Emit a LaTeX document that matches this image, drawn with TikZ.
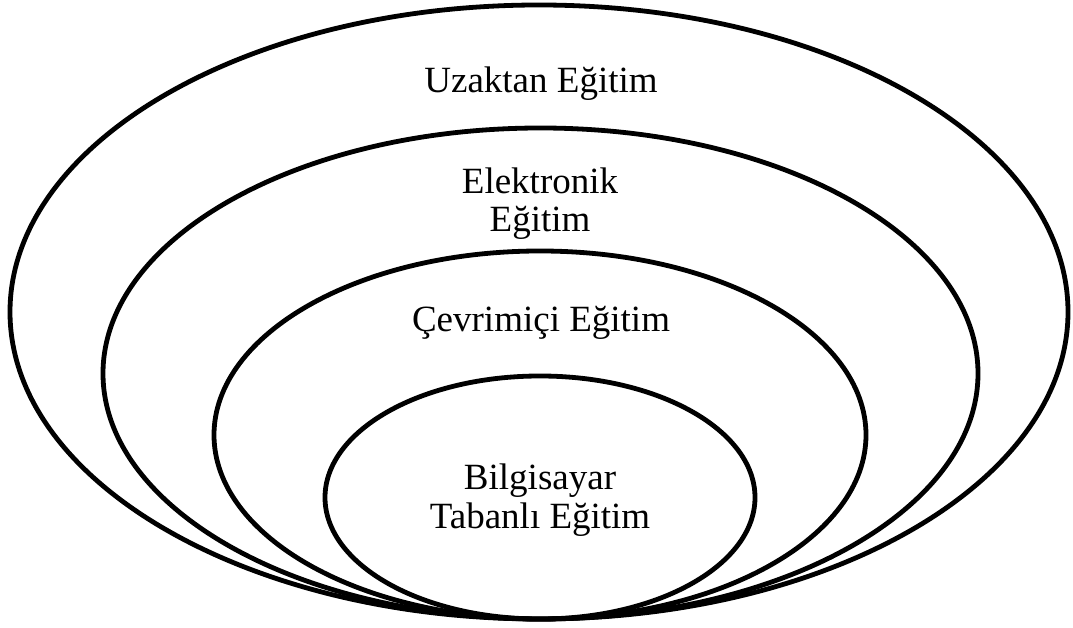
\documentclass[tikz,border=0pt]{standalone}
\usepackage{fontspec}
\setmainfont{Liberation Serif}
\begin{document}
\begin{tikzpicture}[x=1pt,y=1pt,
  ring/.style={draw=black,line width=4.8pt},
  lbl/.style={font=\fontsize{37}{38.5}\selectfont,align=center,inner sep=0pt}]
\useasboundingbox (0,0) rectangle (1073,628);
% nested ellipses, all touching at the bottom
\draw[ring] (539,316) ellipse [x radius=529, y radius=307];
\draw[ring] (540.5,254.5) ellipse [x radius=437.5, y radius=245.5];
\draw[ring] (540,193) ellipse [x radius=326, y radius=184];
\draw[ring] (540,130.5) ellipse [x radius=215, y radius=121.5];
% labels
\node[lbl,anchor=base] (uzaktan) at (541,535) {Uzaktan Eğitim};
\node[lbl] (elektronik) at (540,424.5) {Elektronik\\Eğitim};
\node[lbl,anchor=base] (cevrimici) at (541,296) {Çevrimiçi Eğitim};
\node[lbl] (bilgisayar) at (540,128) {Bilgisayar\\Tabanlı Eğitim};
\end{tikzpicture}
\end{document}
